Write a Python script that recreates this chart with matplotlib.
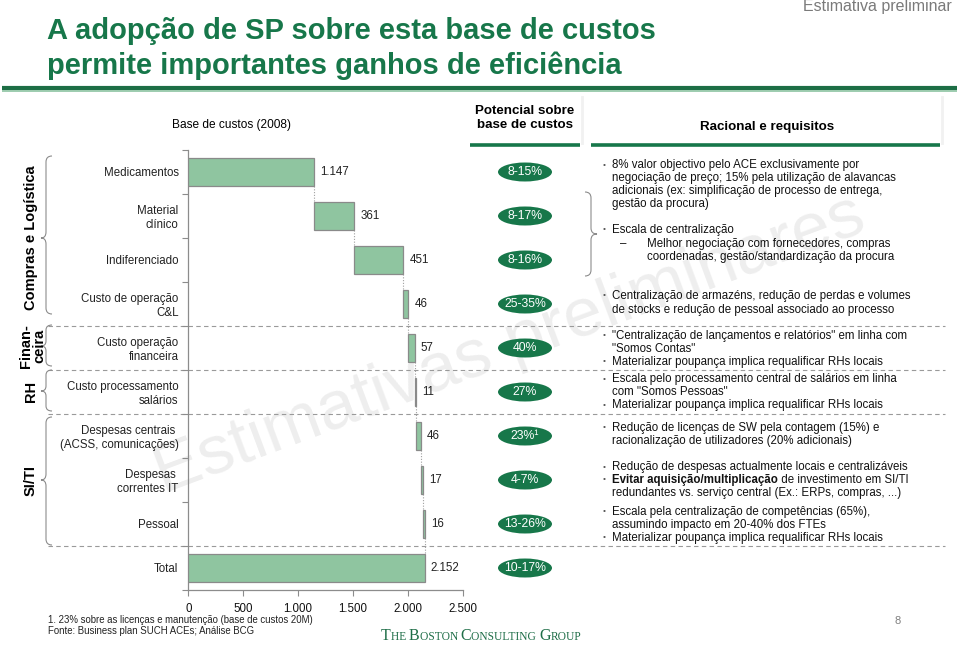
import matplotlib
matplotlib.use("Agg")
import matplotlib.pyplot as plt
from matplotlib import transforms
from matplotlib.patches import Ellipse, PathPatch
from matplotlib.path import Path
import numpy as np

# ---------------- data ----------------
categories = ["Medicamentos", "Material\nclínico", "Indiferenciado", "Custo de operação\nC&L",
              "Custo operação\nfinanceira", "Custo processamento\nsalários",
              "Despesas centrais \n(ACSS, comunicações)", "Despesas \ncorrentes IT", "Pessoal", "Total"]
values = [1147, 361, 451, 46, 57, 11, 46, 17, 16, 2152]
potential = ["8-15%", "8-17%", "8-16%", "25-35%", "40%", "27%", "23%¹", "4-7%", "13-26%", "10-17%"]
x_ticks = [0, 500, 1000, 1500, 2000, 2500]
x_tick_labels = ["0", "500", "1.000", "1.500", "2.000", "2.500"]
group_labels = ["Compras e Logística", "Finan-\nceira", "RH", "SI/TI"]

# ---------------- style ----------------
plt.rcParams['font.family'] = ['Liberation Sans', 'DejaVu Sans']

GREEN = '#17774a'
BAR = '#8fc5a0'
GREY = '#8c8c8c'
TXT = 8.3

fig = plt.figure(figsize=(9.6, 6.47), dpi=100)
ax0 = fig.add_axes([0, 0, 1, 1])
ax0.set_xlim(0, 960)
ax0.set_ylim(647, 0)
ax0.axis('off')
ax0.set_zorder(0)

ax = fig.add_axes([188.3 / 960, 1 - 590 / 647, 274.4 / 960, 440 / 647])
ax.set_zorder(1)
ax.patch.set_visible(False)

# ---------------- waterfall ----------------
n = len(values)
starts = []
acc = 0
for i, v in enumerate(values):
    if i == n - 1:
        starts.append(0)
    else:
        starts.append(acc)
        acc += v
starts = np.array(starts)
vals = np.array(values)
ys = np.arange(n)
bh = 0.64
ax.barh(ys, vals, left=starts, height=bh, color=BAR, edgecolor='#8a8a8a', linewidth=0.9, zorder=3)
ends = starts + vals
for i in range(n - 1):
    ax.plot([ends[i], ends[i]], [i + bh / 2, i + 1 - bh / 2], color='#a0a0a0', lw=0.8,
            ls=(0, (1, 1.5)), zorder=2)
for i, v in enumerate(values):
    lab = f"{v:,}".replace(",", ".")
    ax.annotate(lab, (ends[i], i), xytext=(4.5, 0), textcoords='offset points',
                va='center', ha='left', fontsize=TXT, color='#222222')

ax.set_xlim(0, 2500)
ax.set_ylim(n - 0.5, -0.5)
ax.set_xticks(x_ticks, x_tick_labels)
ax.set_yticks(ys, categories)
ax.set_yticks(np.arange(-0.5, n, 1), minor=True)
ax.tick_params(axis='y', which='major', length=0, pad=7, labelsize=TXT, labelcolor='#222222')
ax.tick_params(axis='y', which='minor', length=4, color=GREY, width=0.8)
ax.tick_params(axis='x', length=4, color=GREY, width=0.8, pad=5, labelsize=TXT, labelcolor='#111111')
for s in ['top', 'right']:
    ax.spines[s].set_visible(False)
for s in ['left', 'bottom']:
    ax.spines[s].set_color(GREY)
    ax.spines[s].set_linewidth(0.9)

trans = transforms.blended_transform_factory(ax0.transData, ax.transData)

# dashed separators between groups
for yb in [3.5, 4.5, 5.5, 8.5]:
    ax0.plot([48, 945], [yb, yb], transform=trans, color='#9a9a9a', lw=0.8, ls=(0, (4, 3)), zorder=2)

# pills
for i, p in enumerate(potential):
    e = Ellipse((525, i), width=54, height=19 / 44, transform=trans, facecolor=GREEN,
                edgecolor='none', zorder=4)
    ax0.add_patch(e)
    ax0.text(525, i, p, transform=trans, ha='center', va='center', color='white',
             fontsize=8.8, zorder=5)

# ---------------- braces ----------------
def brace(y0, y1, ym, xe, xb, xt, r=6):
    verts = [(xe, y0), (xb, y0), (xb, y0 + r), (xb, ym - r), (xb, ym), (xt, ym),
             (xb, ym), (xb, ym + r), (xb, y1 - r), (xb, y1), (xe, y1)]
    codes = [Path.MOVETO, Path.CURVE3, Path.CURVE3, Path.LINETO, Path.CURVE3, Path.CURVE3,
             Path.CURVE3, Path.CURVE3, Path.LINETO, Path.CURVE3, Path.CURVE3]
    ax0.add_patch(PathPatch(Path(verts, codes), facecolor='none', edgecolor=GREY, lw=0.8, zorder=3))

brace(156, 314, 238, 52, 46, 41)
brace(325, 366, 346, 52, 46, 41, r=5)
brace(370, 411, 391, 52, 46, 41, r=5)
brace(417, 545, 480, 52, 46, 41)
brace(192, 276, 234, 585, 591, 597)

# group labels
ax0.text(31, 238, group_labels[0], rotation=90, ha='center', va='center', fontsize=10.5, fontweight='bold')
ax0.text(33, 346, group_labels[1], rotation=90, ha='center', va='center', fontsize=10.5,
         fontweight='bold', linespacing=0.95, multialignment='center')
ax0.text(31, 391, group_labels[2], rotation=90, ha='center', va='center', fontsize=10.5, fontweight='bold')
ax0.text(31, 480, group_labels[3], rotation=90, ha='center', va='center', fontsize=10.5, fontweight='bold')

# ---------------- header ----------------
ax0.text(952, 7, "Estimativa preliminar", ha='right', va='center', fontsize=11.5, color='#7a7a7a')
ax0.text(47, 31, "A adopção de SP sobre esta base de custos", ha='left', va='center',
         fontsize=21, fontweight='bold', color=GREEN)
ax0.text(47, 66, "permite importantes ganhos de eficiência", ha='left', va='center',
         fontsize=21, fontweight='bold', color=GREEN)
ax0.plot([2, 957], [88, 88], color='#1d6e45', lw=3, solid_capstyle='butt')
ax0.plot([2, 957], [90.5, 90.5], color='#8cc4a2', lw=1.2, solid_capstyle='butt')

ax0.text(232, 125, "Base de custos (2008)", ha='center', va='center', fontsize=8.6)
ax0.text(525, 118, "Potencial sobre\nbase de custos", ha='center', va='center', fontsize=9.6,
         fontweight='bold', linespacing=1.15)
ax0.text(767, 127, "Racional e requisitos", ha='center', va='center', fontsize=9.6, fontweight='bold')
ax0.plot([470, 580], [145, 145], color=GREEN, lw=2.6, solid_capstyle='butt')
ax0.plot([591, 940], [145, 145], color=GREEN, lw=2.6, solid_capstyle='butt')
# faint header box shadows
ax0.plot([582, 582], [97, 143], color='#f1f1f1', lw=2)
ax0.plot([942, 942], [97, 143], color='#f1f1f1', lw=2)

# ---------------- right column text ----------------
lines = [
    (165, True, "8% valor objectivo pelo ACE exclusivamente por"),
    (178, False, "negociação de preço; 15% pela utilização de alavancas"),
    (191, False, "adicionais (ex: simplificação de processo de entrega,"),
    (204, False, "gestão da procura)"),
    (230, True, "Escala de centralização"),
    (296, True, "Centralização de armazéns, redução de perdas e volumes"),
    (310, False, "de stocks e redução de pessoal associado ao processo"),
    (336, True, "\"Centralização de lançamentos e relatórios\" em linha com"),
    (349, False, "\"Somos Contas\""),
    (362, True, "Materializar poupança implica requalificar RHs locais"),
    (379, True, "Escala pelo processamento central de salários em linha"),
    (392, False, "com \"Somos Pessoas\""),
    (405, True, "Materializar poupança implica requalificar RHs locais"),
    (428, True, "Redução de licenças de SW pela contagem (15%) e"),
    (441, False, "racionalização de utilizadores (20% adicionais)"),
    (467, True, "Redução de despesas actualmente locais e centralizáveis"),
    (493, False, "redundantes vs. serviço central (Ex.: ERPs, compras, ...)"),
    (512, True, "Escala pela centralização de competências (65%),"),
    (525, False, "assumindo impacto em 20-40% dos FTEs"),
    (538, True, "Materializar poupança implica requalificar RHs locais"),
]
for y, bullet, t in lines:
    if bullet:
        ax0.text(604, y, "•", ha='center', va='center', fontsize=6, color='#555555')
    ax0.text(612, y, t, ha='left', va='center', fontsize=TXT, color='#111111', zorder=3)

ax0.text(620, 244, "–", ha='left', va='center', fontsize=TXT, color='#111111')
ax0.text(647, 244, "Melhor negociação com fornecedores, compras", ha='left', va='center', fontsize=TXT, color='#111111')
ax0.text(647, 257, "coordenadas, gestão/standardização da procura", ha='left', va='center', fontsize=TXT, color='#111111')

# rich line with bold part
ax0.text(604, 480, "•", ha='center', va='center', fontsize=6, color='#555555')
fig.canvas.draw()
renderer = fig.canvas.get_renderer()
t1 = ax0.text(612, 480, "Evitar aquisição/multiplicação", ha='left', va='center', fontsize=TXT,
              fontweight='bold', color='#111111')
bb = t1.get_window_extent(renderer=renderer)
x_end = ax0.transData.inverted().transform((bb.x1, 0))[0]
ax0.text(x_end, 480, " de investimento em SI/TI", ha='left', va='center', fontsize=TXT, color='#111111')

# ---------------- watermark ----------------
ax0.text(510, 345, "Estimativas preliminares", ha='center', va='center', rotation=20.5,
         rotation_mode='anchor', fontsize=50, color='#000000', alpha=0.07, zorder=0)

# ---------------- footer ----------------
ax0.text(48, 620, "1. 23% sobre as licenças e manutenção (base de custos 20M)", ha='left', va='center',
         fontsize=6.9, color='#222222')
ax0.text(48, 631, "Fonte: Business plan SUCH ACEs; Análise BCG", ha='left', va='center',
         fontsize=6.9, color='#222222')
ax0.text(898, 621, "8", ha='center', va='center', fontsize=8, color='#808080')

# BCG logo in small caps
x = 381
segs = [("T", 11.5), ("HE ", 8.3), ("B", 11.5), ("OSTON ", 8.3), ("C", 11.5), ("ONSULTING ", 8.3),
        ("G", 11.5), ("ROUP", 8.3)]
for s, fs in segs:
    t = ax0.text(x, 640, s, ha='left', va='baseline', fontsize=fs, color='#1f6e48',
                 family=['Liberation Serif', 'DejaVu Serif'])
    bb = t.get_window_extent(renderer=renderer)
    x = ax0.transData.inverted().transform((bb.x1, 0))[0]

fig.savefig("out.png", dpi=100)
